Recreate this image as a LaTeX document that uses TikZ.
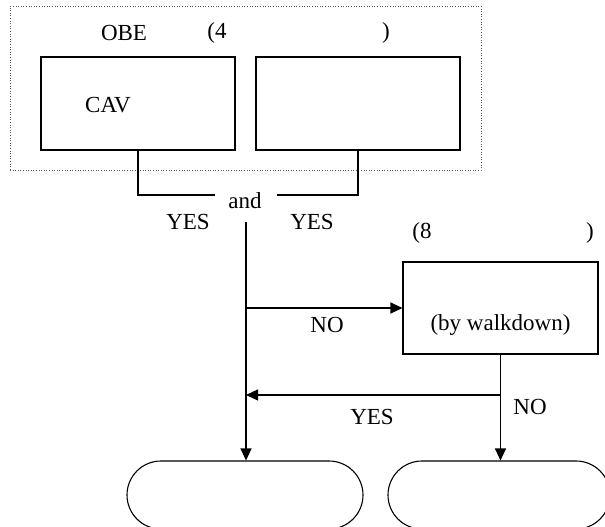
\documentclass[tikz,border=0pt]{standalone}
\usepackage{fontspec}
\setmainfont{Liberation Serif}
\usetikzlibrary{arrows.meta}
\begin{document}
\begin{tikzpicture}[x=1pt,y=-1pt,
  box/.style={draw, line width=1.1pt, inner sep=0pt},
  term/.style={draw, line width=1.1pt, rounded corners=34pt, inner sep=0pt, minimum height=68pt},
  txt/.style={inner sep=0pt, font=\fontsize{23}{27}\selectfont},
  line/.style={line width=1.1pt},
  arr/.style={line width=1.1pt, -{Triangle[length=12pt,width=11pt]}}]
\useasboundingbox (0,0) rectangle (605,527);
\clip (0,0) rectangle (605,527);
\fill[white] (0,0) rectangle (605,527);
% outer dotted frame
\node[draw, dotted, line width=0.6pt, gray!70!black, minimum width=471pt, minimum height=164pt, inner sep=0pt] (outer) at (245.5,88) {};
\node[txt] (obe) at (124,33) {OBE};
\node[txt] (four) at (217,33) {(4};
\node[txt] (rp1) at (386,33) {)};
% two boxes
\node[box, minimum width=194pt, minimum height=93pt] (box1) at (138,103.5) {};
\node[box, minimum width=204pt, minimum height=93pt] (box2) at (358,103.5) {};
\node[txt] (cav) at (108,105) {CAV};
% and junction
\node[txt] (and) at (245,201) {and};
\coordinate (jl) at (215,195);
\coordinate (jr) at (277,195);
\draw[line] (box1.south) |- (jl);
\draw[line] (jr) -| (box2.south);
\node[txt] (yes1) at (188,222) {YES};
\node[txt] (yes2) at (312,222) {YES};
% main line
\coordinate (mtop) at (246,222);
% box 3
\node[txt] (eight) at (422,233) {(8};
\node[txt] (rp2) at (590,233) {)};
\node[box, minimum width=195pt, minimum height=92pt] (box3) at (500.5,308) {};
\node[txt] (walk) at (500.5,325) {(by walkdown)};
% terminals
\node[term, minimum width=236pt] (term1) at (245,495) {};
\node[term, minimum width=222pt] (term2) at (499,495) {};
% connectors
\draw[arr] (mtop) -- (mtop |- term1.north);
\draw[arr] (mtop |- box3.west) -- (box3.west);
\node[txt] (no1) at (327,325) {NO};
\coordinate (yrow) at (0,395);
\draw[arr] (box3.south |- yrow) -- (mtop |- yrow);
\draw[arr] (box3.south) -- (box3.south |- term2.north);
\node[txt] (yes3) at (372,417) {YES};
\node[txt] (no2) at (530,407) {NO};
\end{tikzpicture}
\end{document}
